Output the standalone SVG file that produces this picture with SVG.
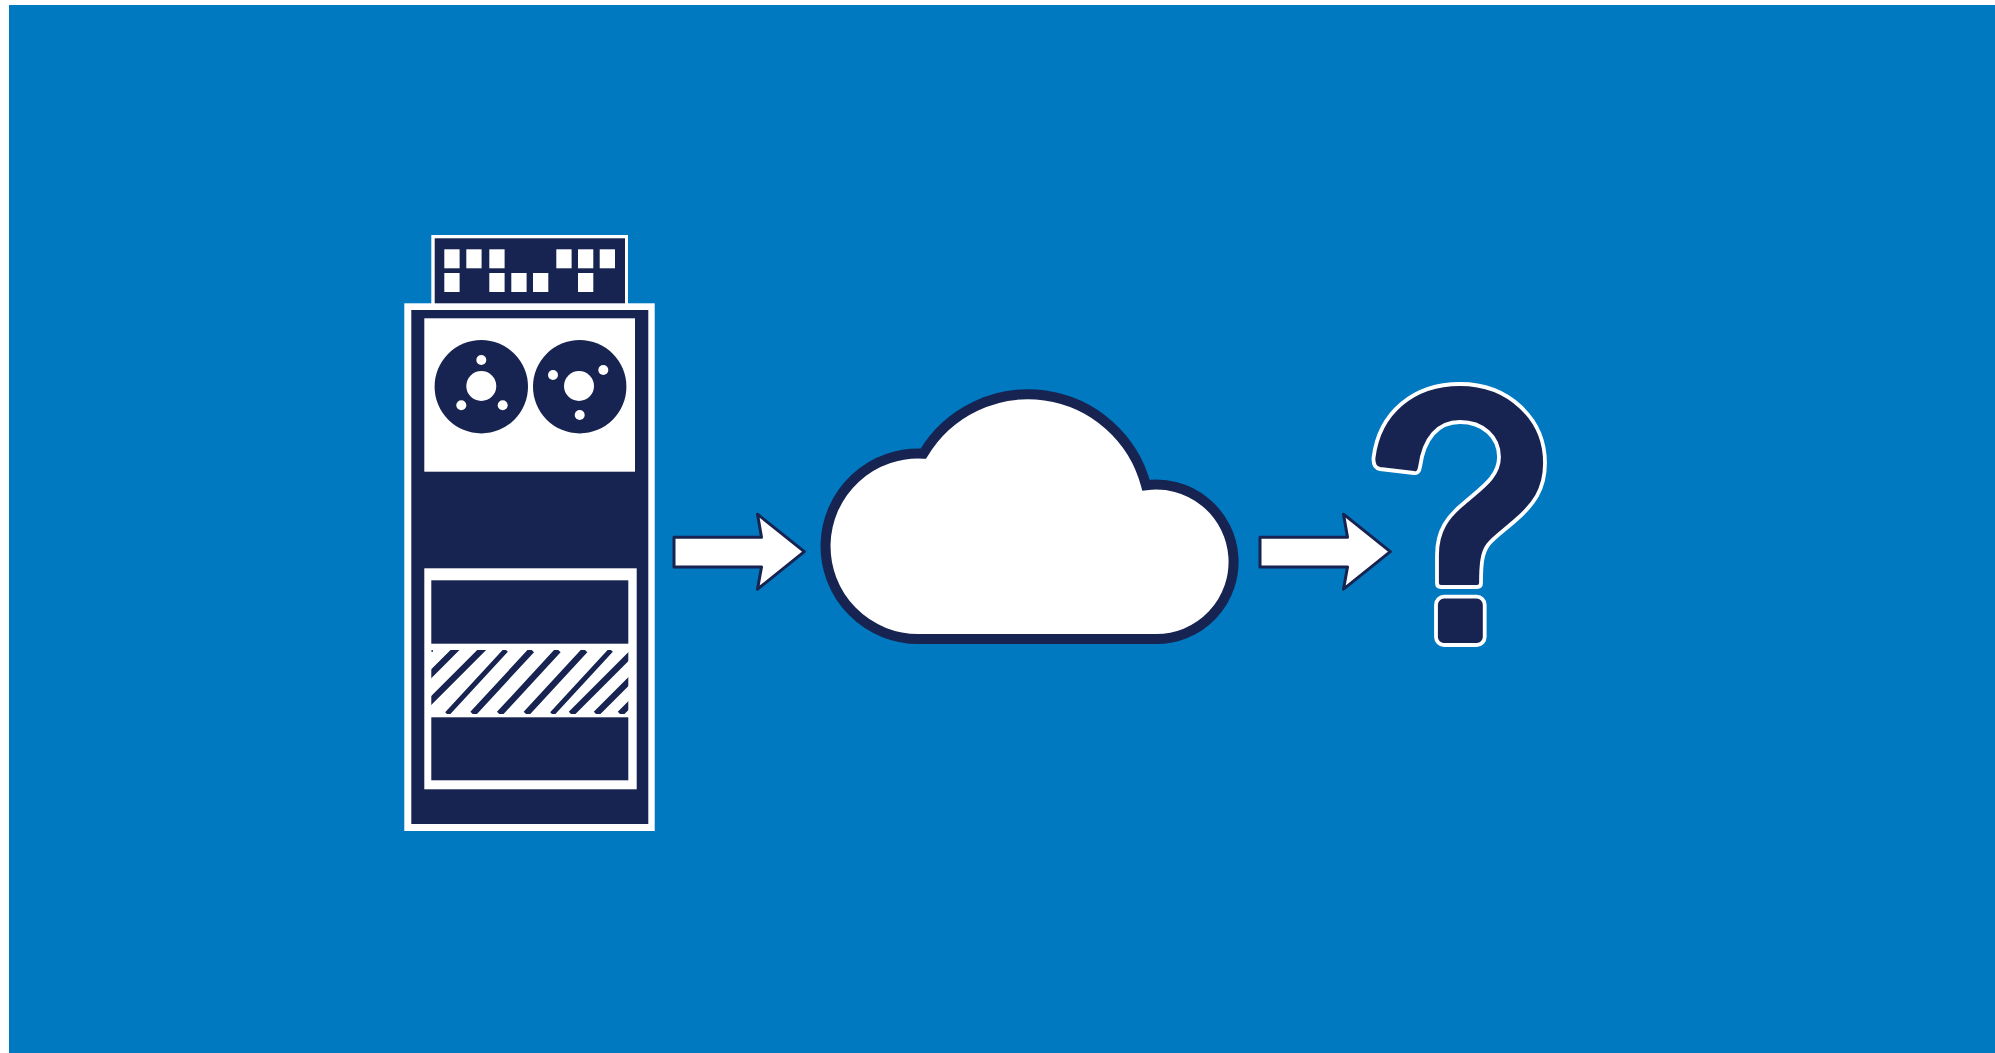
<svg xmlns="http://www.w3.org/2000/svg" width="1995" height="1053" viewBox="0 0 1995 1053">
<style>
.n{fill:#172350}
.w{fill:#fff}
.arrow{fill:#fff;stroke:#172350;stroke-width:3;stroke-linejoin:round}
.hatch{stroke:#172350;stroke-width:6.3;fill:none}
.thin{stroke-width:5}
.q{fill:#172350;stroke:#fff;stroke-width:3.8;stroke-linejoin:round}
</style>
<defs>
<clipPath id="hc"><rect x="431.3" y="650" width="197" height="64"/></clipPath>
<path id="arr" class="arrow" d="M674,537.3H761.5L757.5,514.2L804.3,551.7L757.5,589.2L761.5,567H674Z"/>
</defs>
<rect x="0" y="0" width="1995" height="1053" class="w"/>
<rect x="9" y="5" width="1986" height="1048" fill="#0079c1"/>
<g id="tape-drive">
<rect x="431.3" y="235" width="196.7" height="72" class="w"/>
<rect x="434.7" y="238.3" width="190.3" height="66" class="n"/>
<g class="w">
<rect x="444.3" y="249.3" width="15.3" height="19"/><rect x="466.3" y="249.3" width="15.3" height="19"/><rect x="489.3" y="249.3" width="15.3" height="19"/><rect x="556.3" y="249.3" width="15.3" height="19"/><rect x="578" y="249.3" width="15.3" height="19"/><rect x="599.7" y="249.3" width="15.3" height="19"/>
<rect x="444.3" y="273" width="15.3" height="19"/><rect x="489.3" y="273" width="15.3" height="19"/><rect x="511.3" y="273" width="15.3" height="19"/><rect x="533" y="273" width="15.3" height="19"/><rect x="578" y="273" width="15.3" height="19"/>
</g>
<rect x="404.3" y="303.3" width="250.4" height="527.7" class="w"/>
<rect x="411.3" y="310" width="237" height="514" class="n"/>
<rect x="424.3" y="318.3" width="210.7" height="153.4" class="w"/>
<circle cx="481.3" cy="386.7" r="46.7" class="n"/>
<circle cx="579.7" cy="386.7" r="46.7" class="n"/>
<g class="w">
<circle cx="481.3" cy="386" r="15"/><circle cx="481.3" cy="360" r="5"/><circle cx="461.3" cy="405.3" r="5"/><circle cx="502.7" cy="405.3" r="5"/>
<circle cx="579" cy="386" r="15"/><circle cx="553" cy="375" r="5"/><circle cx="603.3" cy="370" r="5"/><circle cx="579.7" cy="415" r="5"/>
</g>
<rect x="424.3" y="568.3" width="212.4" height="221" class="w"/>
<rect x="431.3" y="580.3" width="197" height="63.4" class="n"/>
<rect x="431.3" y="717.3" width="197" height="63" class="n"/>
<g clip-path="url(#hc)">
<path class="hatch" d="M459,646L395,710M485.7,646L421.7,710M531.7,650L472.7,714M558.3,650L499.3,714M585,650L526,714M639,646L571,714M664,646L596,714M688,646L620,714"/>
<path class="hatch thin" d="M506,650L447,714M611,650L552,714"/>
<rect x="431.3" y="650" width="1.5" height="2" class="n"/>
</g>
</g>
<g id="cloud">
<path d="M923.3,453.7A122,122 0 0 1 1146,485.3A77.2,77.2 0 1 1 1156,639H919A92.72,92.72 0 1 1 923.3,453.7Z" fill="#fff" stroke="#172350" stroke-width="10"/>
</g>
<g id="question-mark">
<path class="q" d="M1373.5,458C1379,412 1414,384 1460,384C1509,384 1545,419 1545,463C1545,490 1533,505 1517,519C1505,530 1494,537 1488,545C1482,553 1481,565 1481,583Q1481,587 1477,587H1441Q1437,587 1437,583V555C1437,530 1448,516 1464,503C1481,488 1499,477 1499,457C1499,437 1483,422 1460,422C1438,422 1424,438 1420,467Q1419,474 1414,473L1380,469Q1373,468 1373.5,458Z"/>
<rect class="q" x="1436" y="596.7" width="48.7" height="48.3" rx="8"/>
</g>
<g id="connectors">
<use href="#arr"/>
<use href="#arr" x="586"/>
</g>
</svg>
